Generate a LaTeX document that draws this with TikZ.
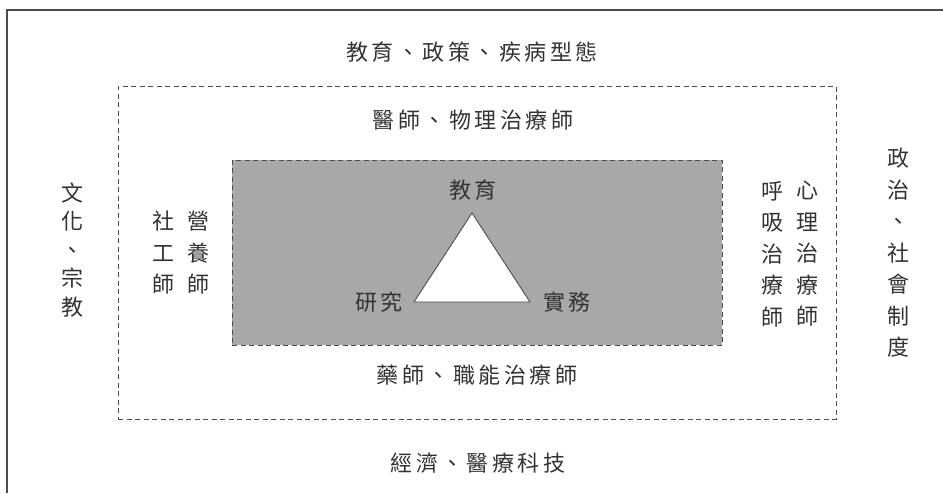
\documentclass[tikz,border=0pt]{standalone}
\usepackage{fontspec}
\newfontfamily\cjk{Noto Sans CJK TC}
\newcommand\gp{\kern3.5pt}
\tikzset{
  lbl/.style={inner sep=0pt, text=black!80, font={\cjk\fontsize{22}{31.5}\selectfont}},
  vlbl/.style={lbl, align=center},
  frame/.style={draw=black!70, line width=1.2pt},
  dashbox/.style={draw=black!70, line width=0.9pt, dash pattern=on 5pt off 3.5pt},
}
\begin{document}
\begin{tikzpicture}[x=1pt,y=-1pt]
\useasboundingbox (0,0) rectangle (943,493);
% outer frame (left and top edges)
\coordinate (ftl) at (7,10);
\coordinate (ftr) at (943,10);
\coordinate (fbl) at (7,493);
\draw[frame] (fbl) -- (ftl) -- (ftr);
% dashed box
\node[dashbox, minimum width=718pt, minimum height=333pt, inner sep=0pt] (mid) at (477,252.5) {};
% gray box
\node[dashbox, fill=black!34, minimum width=490pt, minimum height=185pt, inner sep=0pt] (core) at (477,252.5) {};
% triangle
\coordinate (ta) at (472,213);
\coordinate (tl) at (414,302);
\coordinate (tr) at (530,302);
\draw[fill=white, draw=black!75, line width=0.8pt] (ta) -- (tl) -- (tr) -- cycle;
\node[lbl] (edu) at (473,190) {教\gp 育};
\node[lbl] (res) at (379,302) {研\gp 究};
\node[lbl] (prac) at (567,302) {實\gp 務};
% outer labels
\node[lbl] (top) at (472,52) {教\gp 育\gp 、\gp 政\gp 策\gp 、\gp 疾\gp 病\gp 型\gp 態};
\node[lbl] (bot) at (478,463) {經\gp 濟\gp 、\gp 醫\gp 療\gp 科\gp 技};
\node[vlbl, font={\cjk\fontsize{22}{28.5}\selectfont}] (left) at (72,250) {文\\化\\、\\宗\\教};
\node[vlbl] (right) at (898,253) {政\\治\\、\\社\\會\\制\\度};
% inner labels
\node[lbl] (mtop) at (473,120) {醫\gp 師\gp 、\gp 物\gp 理\gp 治\gp 療\gp 師};
\node[lbl] (mbot) at (477,375) {藥\gp 師\gp 、\gp 職\gp 能\gp 治\gp 療\gp 師};
\node[vlbl] (sw) at (163,253) {社\\工\\師};
\node[vlbl] (nut) at (198,253) {營\\養\\師};
\node[vlbl] (resp) at (772,254) {呼\\吸\\治\\療\\師};
\node[vlbl] (psy) at (807,254) {心\\理\\治\\療\\師};
\end{tikzpicture}
\end{document}
